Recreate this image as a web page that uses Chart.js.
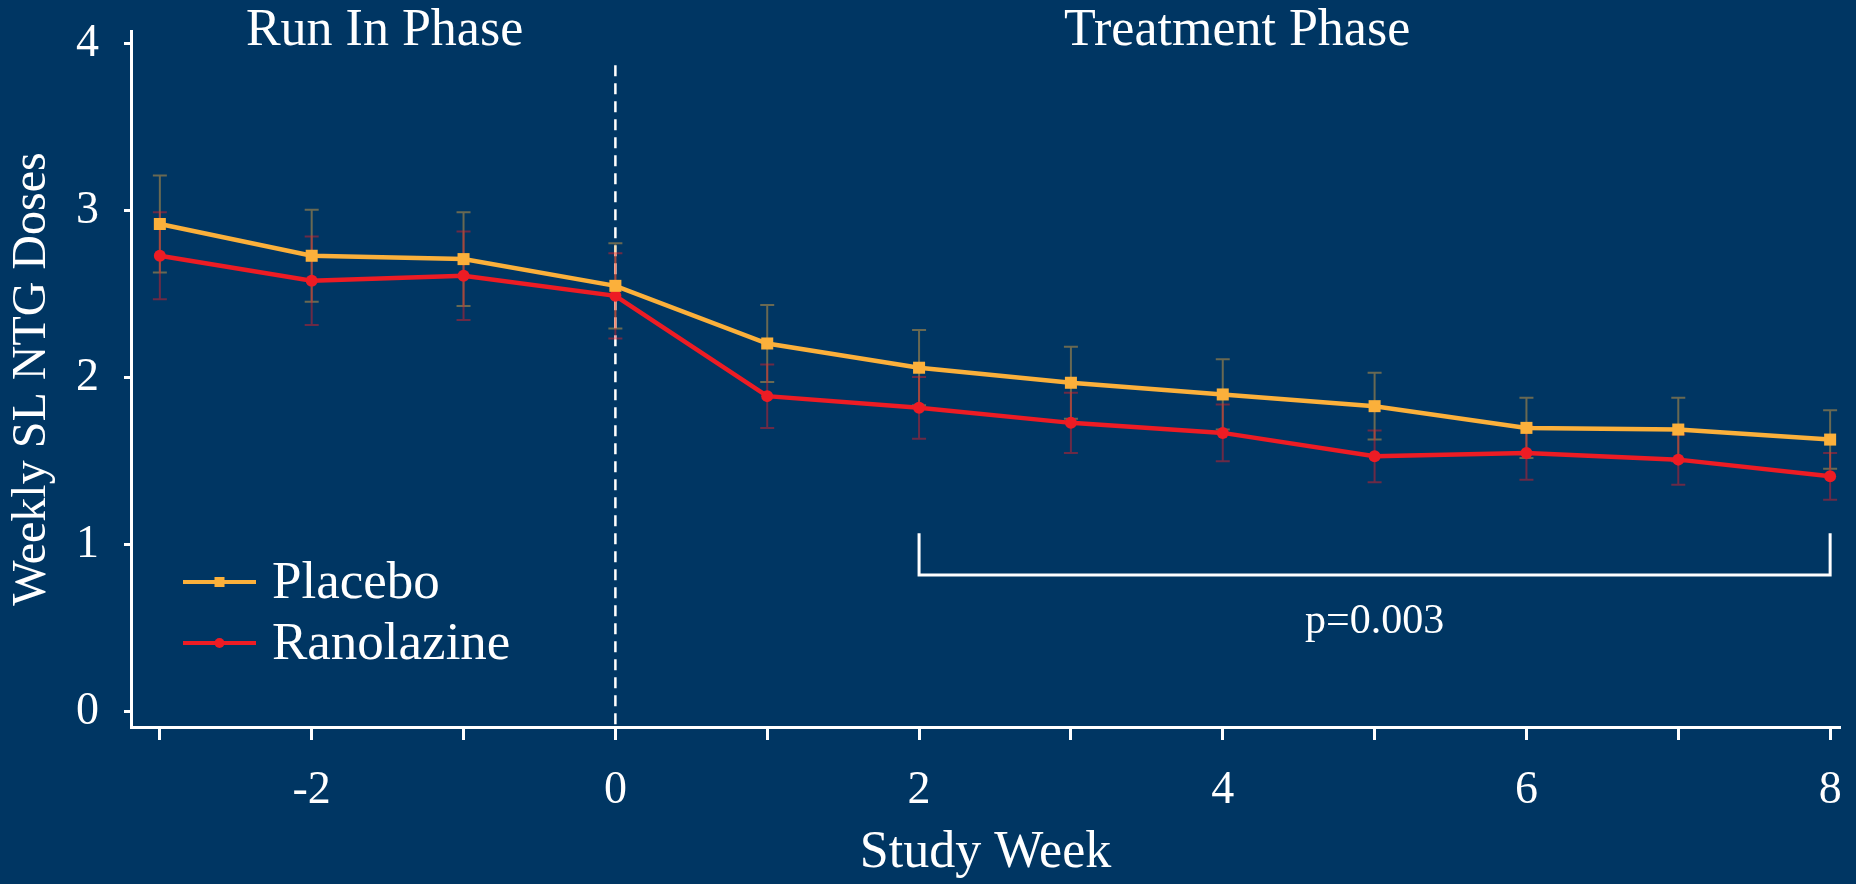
<!DOCTYPE html>
<html>
<head>
<meta charset="utf-8">
<script src="https://cdn.jsdelivr.net/npm/chart.js@4.4.1/dist/chart.umd.min.js"></script>
<style>
  html, body { margin: 0; padding: 0; background: #003663; }
  #wrap { width: 1856px; height: 884px; position: relative; }
  canvas { display: block; }
</style>
</head>
<body>
<div id="wrap"><canvas id="c" width="1856" height="884"></canvas></div>
<script>
// ---- data ----
const weeks = [-3, -2, -1, 0, 1, 2, 3, 4, 5, 6, 7, 8];
const placebo = [2.92, 2.73, 2.71, 2.55, 2.205, 2.06, 1.97, 1.90, 1.83, 1.70, 1.69, 1.63];
const placeboErr = [0.29, 0.275, 0.28, 0.255, 0.23, 0.225, 0.215, 0.21, 0.20, 0.18, 0.19, 0.175];
const ranolazine = [2.73, 2.58, 2.61, 2.49, 1.89, 1.82, 1.73, 1.67, 1.53, 1.55, 1.51, 1.41];
const ranolazineErr = [0.26, 0.265, 0.265, 0.255, 0.19, 0.185, 0.18, 0.17, 0.155, 0.16, 0.15, 0.14];
const yTicks = [0, 1, 2, 3, 4];
const xTicks = [-3, -2, -1, 0, 1, 2, 3, 4, 5, 6, 7, 8];
const seriesNames = ['Placebo', 'Ranolazine'];
const phaseLabels = ['Run In Phase', 'Treatment Phase'];
const pValueText = 'p=0.003';

const BG = '#003663';
const ORANGE = '#FBB03B';
const RED = '#ED1C24';
const ERR_COLORS = ['rgba(251,176,59,0.42)', 'rgba(237,28,36,0.45)'];
const FONT = "'Liberation Serif', 'Times New Roman', serif";

const errs = [placeboErr, ranolazineErr];
const means = [placebo, ranolazine];

const bgPlugin = {
  id: 'bg',
  beforeDraw(chart) {
    const ctx = chart.ctx;
    ctx.save();
    ctx.fillStyle = BG;
    ctx.fillRect(0, 0, chart.width, chart.height);
    ctx.restore();
  }
};

const annotPlugin = {
  id: 'annot',
  beforeDatasetsDraw(chart) {
    const ctx = chart.ctx;
    const xs = chart.scales.x, ys = chart.scales.y;
    ctx.save();
    // dashed vertical line at week 0
    ctx.strokeStyle = '#ffffff';
    ctx.lineWidth = 2.5;
    ctx.setLineDash([11, 7]);
    const x0 = xs.getPixelForValue(0);
    ctx.beginPath();
    ctx.moveTo(x0, ys.getPixelForValue(3.87));
    ctx.lineTo(x0, chart.chartArea.bottom);
    ctx.stroke();
    ctx.setLineDash([]);

    // error bars
    means.forEach((arr, di) => {
      ctx.strokeStyle = ERR_COLORS[di];
      ctx.lineWidth = 2;
      arr.forEach((v, i) => {
        const px = xs.getPixelForValue(weeks[i]);
        const top = ys.getPixelForValue(v + errs[di][i]);
        const bot = ys.getPixelForValue(v - errs[di][i]);
        ctx.beginPath();
        ctx.moveTo(px, top); ctx.lineTo(px, bot);
        ctx.moveTo(px - 7, top); ctx.lineTo(px + 7, top);
        ctx.moveTo(px - 7, bot); ctx.lineTo(px + 7, bot);
        ctx.stroke();
      });
    });

    // significance bracket from week 2 to week 8
    ctx.strokeStyle = '#ffffff';
    ctx.lineWidth = 3;
    ctx.lineJoin = 'miter';
    const bx1 = xs.getPixelForValue(2), bx2 = xs.getPixelForValue(8);
    const byTop = ys.getPixelForValue(1.07), byBot = ys.getPixelForValue(0.82);
    ctx.beginPath();
    ctx.moveTo(bx1, byTop);
    ctx.lineTo(bx1, byBot);
    ctx.lineTo(bx2, byBot);
    ctx.lineTo(bx2, byTop);
    ctx.stroke();

    // texts
    ctx.fillStyle = '#ffffff';
    ctx.textAlign = 'center';
    ctx.textBaseline = 'alphabetic';
    ctx.font = '52px ' + FONT;
    ctx.fillText(phaseLabels[0], xs.getPixelForValue(-1.52), 45);
    ctx.fillText(phaseLabels[1], xs.getPixelForValue(4.095), 45);
    ctx.font = '42px ' + FONT;
    ctx.fillText(pValueText, xs.getPixelForValue(5.0), ys.getPixelForValue(0.47));
    ctx.restore();
  },
  afterDraw(chart) {
    // legend: line + marker + label
    const ctx = chart.ctx;
    ctx.save();
    const items = [
      { name: seriesNames[0], color: ORANGE, style: 'rect', y: 582 },
      { name: seriesNames[1], color: RED, style: 'circle', y: 643 }
    ];
    items.forEach(it => {
      ctx.strokeStyle = it.color;
      ctx.fillStyle = it.color;
      ctx.lineWidth = 4;
      ctx.beginPath();
      ctx.moveTo(183, it.y);
      ctx.lineTo(256, it.y);
      ctx.stroke();
      if (it.style === 'rect') {
        ctx.fillRect(219.5 - 5, it.y - 5, 10, 10);
      } else {
        ctx.beginPath();
        ctx.arc(219.5, it.y, 5, 0, Math.PI * 2);
        ctx.fill();
      }
      ctx.fillStyle = '#ffffff';
      ctx.font = '53px ' + FONT;
      ctx.textAlign = 'left';
      ctx.textBaseline = 'alphabetic';
      ctx.fillText(it.name, 272, it.y + 16);
    });
    ctx.restore();
  }
};

new Chart(document.getElementById('c'), {
  type: 'line',
  data: {
    datasets: [
      {
        label: seriesNames[0],
        data: placebo.map((v, i) => ({ x: weeks[i], y: v })),
        borderColor: ORANGE,
        backgroundColor: ORANGE,
        borderWidth: 4.5,
        pointStyle: 'rect',
        pointRadius: 8.5,
        pointBorderWidth: 0,
        pointHoverRadius: 8.5,
        tension: 0,
        clip: false
      },
      {
        label: seriesNames[1],
        data: ranolazine.map((v, i) => ({ x: weeks[i], y: v })),
        borderColor: RED,
        backgroundColor: RED,
        borderWidth: 4.5,
        pointStyle: 'circle',
        pointRadius: 6,
        pointBorderWidth: 0,
        pointHoverRadius: 6,
        tension: 0,
        clip: false
      }
    ]
  },
  options: {
    responsive: false,
    animation: false,
    events: [],
    layout: { padding: { top: 31, right: 16, left: 0, bottom: 0 } },
    plugins: { legend: { display: false }, tooltip: { enabled: false } },
    scales: {
      x: {
        type: 'linear',
        min: -3.19,
        max: 8.065,
        afterBuildTicks(scale) { scale.ticks = xTicks.map(v => ({ value: v })); },
        afterFit(scale) { scale.height = 157; scale.paddingLeft = 0; scale.paddingRight = 0; },
        grid: { display: true, drawOnChartArea: false, drawTicks: true, tickLength: 13, tickWidth: 3, tickColor: '#ffffff' },
        border: { display: true, color: '#ffffff', width: 3 },
        ticks: {
          color: '#ffffff',
          font: { family: FONT, size: 46, lineHeight: 1 },
          padding: 28,
          maxRotation: 0,
          autoSkip: false,
          callback: (v) => (v % 2 === 0 ? String(v) : '')
        },
        title: {
          display: true,
          text: 'Study Week',
          color: '#ffffff',
          font: { family: FONT, size: 52, lineHeight: 1 },
          padding: { top: 0, bottom: 5 }
        }
      },
      y: {
        type: 'linear',
        min: -0.09,
        max: 4.075,
        afterBuildTicks(scale) { scale.ticks = yTicks.map(v => ({ value: v })); },
        afterFit(scale) { scale.width = 131; scale.paddingTop = 0; scale.paddingBottom = 0; },
        grid: { display: true, drawOnChartArea: false, drawTicks: true, tickLength: 7, tickWidth: 3, tickColor: '#ffffff' },
        border: { display: true, color: '#ffffff', width: 3 },
        ticks: {
          color: '#ffffff',
          font: { family: FONT, size: 46, lineHeight: 1 },
          padding: 25,
          autoSkip: false
        },
        title: {
          display: true,
          text: 'Weekly SL NTG Doses',
          color: '#ffffff',
          font: { family: FONT, size: 48, lineHeight: 1 },
          padding: { top: 8, bottom: 0 }
        }
      }
    }
  },
  plugins: [bgPlugin, annotPlugin]
});
</script>
</body>
</html>
